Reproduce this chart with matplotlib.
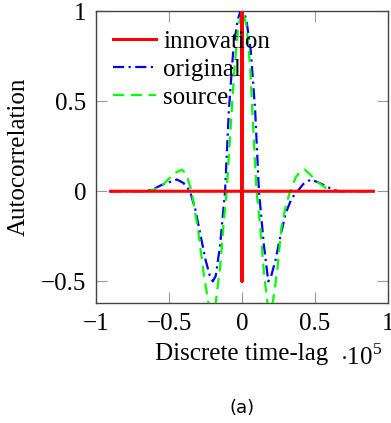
import matplotlib
matplotlib.use("Agg")
import matplotlib.pyplot as plt
import numpy as np

# innovation autocorrelation (lags in samples)
innov_lag = [-90000, -60000, -30000, -2, -1, 0, 1, 2, 30000, 60000, 90000]
innov_val = [0.0, 0.0, 0.0, 0.0, -0.5, 1.0, -0.5, 0.0, 0.0, 0.0, 0.0]

# lags in units of 1e5
orig_x = [-0.9, -0.7, -0.66, -0.6, -0.55, -0.5, -0.445, -0.4, -0.356, -0.32, -0.28, -0.25,
          -0.22, -0.2, -0.18, -0.15, -0.116, -0.09, -0.06, -0.03, -0.01, 0.01, 0.03, 0.06,
          0.09, 0.116, 0.15, 0.18, 0.2, 0.23, 0.26, 0.3, 0.34, 0.38, 0.42, 0.47, 0.52,
          0.57, 0.62, 0.66, 0.7, 0.9]
orig_y = [0.0, 0.0, 0.0, 0.015, 0.035, 0.05, 0.065, 0.045, 0.0, -0.1, -0.26, -0.38,
          -0.47, -0.5, -0.47, -0.3, 0.0, 0.45, 0.78, 0.95, 1.0, 1.0, 0.95, 0.78,
          0.45, 0.0, -0.3, -0.5, -0.47, -0.38, -0.26, -0.12, -0.04, 0.0, 0.04, 0.065, 0.05,
          0.03, 0.01, 0.0, 0.0, 0.0]

src_x = [-0.9, -0.65, -0.6, -0.55, -0.5, -0.45, -0.41, -0.38, -0.345, -0.3, -0.26, -0.23,
         -0.205, -0.18, -0.15, -0.125, -0.105, -0.08, -0.05, -0.025, 0.005, 0.03, 0.055,
         0.08, 0.1, 0.125, 0.15, 0.18, 0.21, 0.24, 0.27, 0.3, 0.33, 0.37, 0.4, 0.43, 0.47,
         0.52, 0.57, 0.62, 0.9]
src_y = [0.0, 0.0, 0.01, 0.03, 0.07, 0.105, 0.12, 0.09, 0.0, -0.22, -0.47, -0.62,
         -0.67, -0.62, -0.42, -0.17, 0.0, 0.33, 0.7, 0.92, 1.0, 0.92, 0.7,
         0.3, 0.0, -0.2, -0.45, -0.66, -0.62, -0.45, -0.2, -0.08, 0.0, 0.08, 0.11, 0.12, 0.09,
         0.05, 0.02, 0.0, 0.0]

xticks = [-1, -0.5, 0, 0.5, 1]
yticks = [-0.5, 0, 0.5, 1]

plt.rcParams['font.family'] = ['Liberation Serif', 'DejaVu Serif']
plt.rcParams['mathtext.fontset'] = 'custom'
plt.rcParams['mathtext.rm'] = 'Liberation Serif'
fs = 18

fig = plt.figure(figsize=(3.91, 4.23), dpi=100)
ax = fig.add_axes([96/391, 1-303/423, 292/391, 292/423])

ax.plot(np.array(innov_lag) / 1e5, innov_val, color='#ff0000', lw=2.2, label='innovation', zorder=5)
ax.plot(orig_x, orig_y, color='#0000ff', lw=1.6, ls=(0, (5, 2, 1, 2)), label='original', zorder=3)
ax.plot(src_x, src_y, color='#00ff00', lw=1.6, ls=(0, (5, 3)), label='source', zorder=4)

ax.set_xlim(-1, 1)
ax.set_ylim(-0.62, 1)
ax.set_xticks(xticks)
ax.set_yticks(yticks)
ax.set_xticklabels(['\u22121', '\u22120.5', '0', '0.5', '1'])
ax.set_yticklabels(['\u22120.5', '0', '0.5', '1'])
ax.tick_params(direction='in', length=8, width=0.8, color='#999999', top=True, right=True,
               labelsize=fs, pad=7)
for s in ax.spines.values():
    s.set_color('#444444')
    s.set_linewidth(1.0)

ax.set_ylabel('Autocorrelation', fontsize=fs, labelpad=8)
ax.set_xlabel('Discrete time-lag', fontsize=fs, labelpad=6)
fig.text(340/391, 1-357/423, r'$\cdot 10^5$', fontsize=fs, ha='left', va='center')
fig.text(242/391, 1-408/423, '(a)', fontsize=13, ha='center', va='center',
         family='DejaVu Sans')

ax.legend(loc='upper left',
          frameon=False, fontsize=fs, handlelength=1.7, handletextpad=0.3,
          labelspacing=0.23, borderaxespad=0.0, borderpad=0.0,
          bbox_to_anchor=(17/292, (303-30)/292))

fig.savefig('out.png', dpi=100)
